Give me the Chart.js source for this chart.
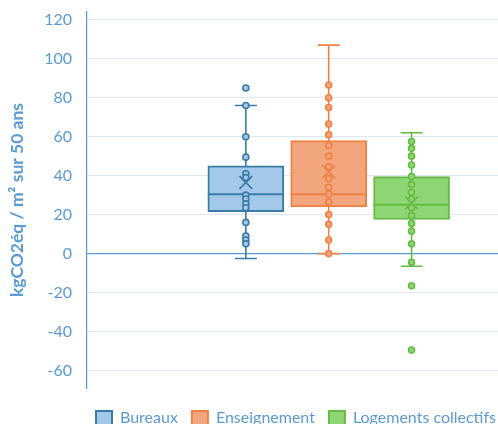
<!DOCTYPE html>
<html><head><meta charset="utf-8">
<script src="https://cdn.jsdelivr.net/npm/chart.js@4/dist/chart.umd.min.js"></script>
<style>html,body{margin:0;padding:0;overflow:hidden;background:#fff;width:498px;height:424px}canvas{display:block}</style>
</head><body>
<canvas id="c" width="510" height="436"></canvas>
<script>
// ---- data ----
const categories = ['Bureaux', 'Enseignement', 'Logements collectifs'];
const q1 = [21.5, 24, 17.5];
const median = [30.5, 30.5, 25];
const q3 = [45, 58, 39.5];
const whiskerMin = [-2.5, 0, -6.5];
const whiskerMax = [76, 107, 62];
const means = [36.5, 42, 26];
const bureauxPoints = [85, 76, 60, 49.5, 41, 39, 30, 28, 25.5, 23.5, 16, 9, 7, 5];
const enseignementPoints = [86.5, 80, 75, 66.5, 61, 55.5, 50, 44.5, 38.5, 34, 30.5, 26.5, 20, 15, 7, 0];
const logementsPoints = [57.5, 54, 50, 45.5, 39.5, 35.5, 31.5, 28, 23.5, 19.5, 15.5, 11.5, 5, -4.5, -16.5, -49.5];
const yTicks = [-60, -40, -20, 0, 20, 40, 60, 80, 100, 120];

// ---- styles ----
const fillColors = ['#A3C8EA', '#F2A67D', '#8ED673'];
const strokeColors = ['#3A7CA5', '#EE8245', '#66BB44'];
const textBlue = '#5B9BD5';
const pointSets = [bureauxPoints, enseignementPoints, logementsPoints];

const datasets = [];
categories.forEach((c, i) => {
  datasets.push({
    type: 'bar', label: c, catIndex: i,
    data: [{x: i + 1, y: [q1[i], q3[i]]}],
    backgroundColor: fillColors[i], borderColor: strokeColors[i],
    borderWidth: 2, borderSkipped: false, barThickness: 76, grouped: false, order: 3
  });
});
categories.forEach((c, i) => {
  datasets.push({
    type: 'scatter', label: c + ' points',
    data: pointSets[i].map(v => ({x: i + 1, y: v})),
    backgroundColor: fillColors[i], borderColor: strokeColors[i],
    pointRadius: 3, pointBorderWidth: 1.6, order: 2
  });
});
categories.forEach((c, i) => {
  datasets.push({
    type: 'scatter', label: c + ' moyenne',
    data: [{x: i + 1, y: means[i]}],
    pointStyle: 'crossRot', pointRadius: 9,
    borderColor: strokeColors[i], backgroundColor: strokeColors[i],
    pointBorderWidth: 1.6, order: 1
  });
});

const boxPlugin = {
  id: 'boxExtras',
  beforeDatasetsDraw(chart) {
    const {ctx, scales: {x, y}} = chart;
    ctx.save();
    categories.forEach((c, i) => {
      const cx = x.getPixelForValue(i + 1);
      const yMin = y.getPixelForValue(whiskerMin[i]);
      const yMax = y.getPixelForValue(whiskerMax[i]);
      ctx.strokeStyle = strokeColors[i];
      ctx.lineWidth = 1.6;
      ctx.beginPath();
      ctx.moveTo(cx, yMin); ctx.lineTo(cx, yMax);
      ctx.moveTo(cx - 11, yMin); ctx.lineTo(cx + 11, yMin);
      ctx.moveTo(cx - 11, yMax); ctx.lineTo(cx + 11, yMax);
      ctx.stroke();
    });
    ctx.restore();
  },
  afterDatasetDraw(chart, args) {
    const ds = chart.data.datasets[args.index];
    if (ds.type !== 'bar') return;
    const i = ds.catIndex;
    const bar = args.meta.data[0];
    if (!bar) return;
    const {ctx, scales: {y}} = chart;
    const my = y.getPixelForValue(median[i]);
    ctx.save();
    ctx.strokeStyle = strokeColors[i];
    ctx.lineWidth = 2;
    ctx.beginPath();
    ctx.moveTo(bar.x - bar.width / 2, my);
    ctx.lineTo(bar.x + bar.width / 2, my);
    ctx.stroke();
    ctx.restore();
  }
};

new Chart(document.getElementById('c'), {
  type: 'bar',
  data: {datasets},
  plugins: [boxPlugin],
  options: {
    responsive: false, animation: false,
    layout: {padding: {top: 12, right: 0, left: 0, bottom: 0}},
    plugins: {
      tooltip: {enabled: false},
      legend: {
        position: 'bottom', align: 'end',
        labels: {
          filter: item => item.datasetIndex < 3,
          boxWidth: 16, boxHeight: 14, padding: 14,
          color: textBlue, font: {family: 'Lato', size: 16}
        }
      }
    },
    scales: {
      x: {
        type: 'linear', min: -0.917, max: 4.06, offset: false,
        grid: {display: false, offset: false}, border: {display: false},
        ticks: {display: false},
        afterFit: s => { s.height = 8; s.paddingLeft = 0; s.paddingRight = 0; }
      },
      y: {
        min: -69, max: 124,
        afterBuildTicks: s => { s.ticks = yTicks.map(v => ({value: v})); },
        afterFit: s => { s.width = 87; s.paddingTop = 0; s.paddingBottom = 0; },
        ticks: {color: textBlue, font: {family: 'Lato', size: 16}, padding: 15},
        grid: {
          drawTicks: false,
          color: ctx => (ctx.tick && ctx.tick.value === 0) ? '#5B9BD5' : '#DEE8F4',
          lineWidth: ctx => (ctx.tick && ctx.tick.value === 0) ? 1.2 : 1
        },
        border: {display: true, color: '#5B9BD5', width: 1.2},
        title: {
          display: true, text: 'kgCO2éq / m² sur 50 ans',
          color: textBlue, font: {family: 'Lato', size: 17.5, weight: 'bold'},
          padding: {top: 7, bottom: 0}
        }
      }
    }
  }
});
</script>
</body></html>
